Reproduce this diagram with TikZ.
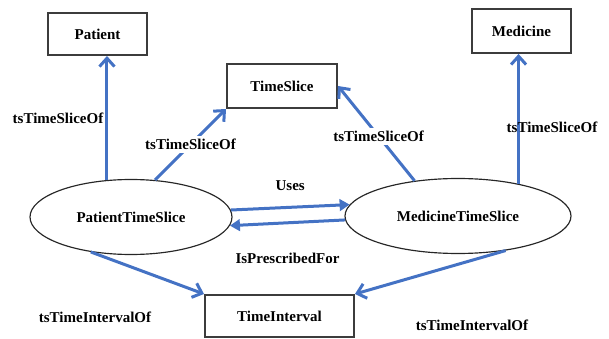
\documentclass[tikz,border=0pt]{standalone}
\usepackage{fontspec}
\setmainfont{Liberation Serif}
\usepackage{xcolor}
\usetikzlibrary{arrows.meta, shapes.geometric}

\definecolor{linkblue}{RGB}{68,114,196}
\definecolor{boxgray}{RGB}{60,60,60}

\tikzset{
  concept/.style={draw=boxgray, line width=1.2pt, rectangle, inner sep=0pt,
    font=\fontsize{9}{11}\selectfont\bfseries},
  slice/.style={draw=black!85, line width=0.7pt, ellipse, inner sep=0pt,
    minimum height=45pt, font=\fontsize{9}{11}\selectfont\bfseries},
  link/.style={linkblue, line width=1.8pt, -{Straight Barb[length=5pt,width=9pt]}},
  flow/.style={linkblue, line width=1.8pt, -{Triangle[length=6pt,width=7pt]}},
  lbl/.style={text=black, font=\fontsize{9}{11}\selectfont\bfseries, inner sep=1pt}
}

\begin{document}
\begin{tikzpicture}[x=0.6pt, y=-0.6pt]
\useasboundingbox (0,0) rectangle (609,339);
% classes
\node[concept, minimum width=59.4pt, minimum height=25.2pt] (patient) at (97.5,34) {Patient};
\node[concept, minimum width=59.4pt, minimum height=26.4pt] (medicine) at (521.5,31) {Medicine};
\node[concept, minimum width=66pt, minimum height=26.4pt] (tslice) at (282,86) {TimeSlice};
\node[concept, minimum width=89.4pt, minimum height=25.2pt] (tinterval) at (279.5,316) {TimeInterval};
% time slices
\node[slice, minimum width=121.2pt] (pts) at (131,217) {PatientTimeSlice};
\node[slice, minimum width=135.6pt] (mts) at (458,216) {MedicineTimeSlice};
% tsTimeSliceOf
\draw[link] (pts.123) -- (pts.123 |- patient.south);
\draw[link] (mts.28) -- (mts.28 |- medicine.south);
\draw[link] (pts.57) -- node[lbl, fill=white, inner sep=2pt] {tsTimeSliceOf} (tslice.south west);
\draw[link] (mts.141) -- node[lbl, fill=white, inner sep=2pt, pos=0.47] {tsTimeSliceOf} (tslice.east);
\node[lbl] (lpatient) at (58,118) {tsTimeSliceOf};
\node[lbl] (lmedicine) at (552,127) {tsTimeSliceOf};
% uses / prescribed
\draw[flow] (pts.4) -- node[lbl, above=8pt] {Uses} (mts.174);
\draw[flow] (mts.182) -- node[lbl, below=16pt] {IsPrescribedFor} (pts.-5);
% tsTimeIntervalOf
\draw[link] (pts.221) -- (tinterval.north west);
\draw[link] (mts.-36) -- (tinterval.north east);
\node[lbl] (lleft) at (95,317) {tsTimeIntervalOf};
\node[lbl] (lright) at (472,325) {tsTimeIntervalOf};
\end{tikzpicture}
\end{document}
